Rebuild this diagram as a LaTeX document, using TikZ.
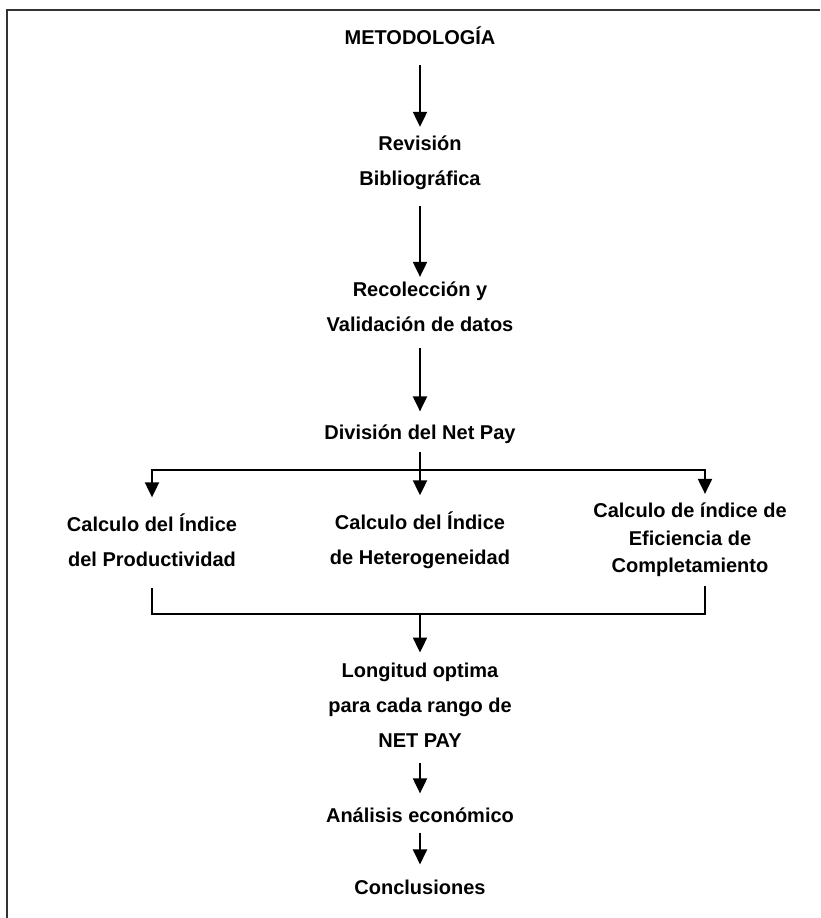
\documentclass[tikz,border=0pt]{standalone}
\usepackage{fontspec}
\setmainfont{Liberation Sans}
\usetikzlibrary{arrows.meta}

\begin{document}
\begin{tikzpicture}[x=1pt,y=-1pt,font=\fontsize{20}{35}\selectfont\bfseries,
  txt/.style={align=center,inner sep=0pt},
  ln/.style={line width=2pt},
  arr/.style={line width=2pt,-{Triangle[length=15pt,width=14pt]}}]

\useasboundingbox (0,0) rectangle (820,918);
\draw[line width=1.5pt,black!80] (7,918) -- (7,10) -- (820,10);

\coordinate (s) at (420,470);
\coordinate (m) at (420,614);

\node[txt] (met) at (420,36) {METODOLOGÍA};
\node[txt] (rev) at (420,163) {Revisión\\Bibliográfica};
\node[txt] (rec) at (420,307) {Recolección y\\Validación de datos};
\node[txt] (div) at (420,434) {División del Net Pay};

\node[txt] (prod) at (152,540) {Calculo del Índice\\del Productividad};
\node[txt] (het) at (420,540) {Calculo del Índice\\de Heterogeneidad};
\node[txt,font=\fontsize{20}{27.5}\selectfont\bfseries] (efi) at (690,540) {Calculo de índice de\\Eficiencia de\\Completamiento};

\node[txt] (lon) at (420,705) {Longitud optima\\para cada rango de\\NET PAY};
\node[txt] (ana) at (420,815) {Análisis económico};
\node[txt] (con) at (420,887) {Conclusiones};

\draw[arr,shorten <=20pt,shorten >=9pt] (met) -- (rev);
\draw[arr,shorten <=16pt,shorten >=5pt] (rev) -- (rec);
\draw[arr,shorten <=16pt,shorten >=13pt] (rec) -- (div);

\draw[ln,shorten <=8pt] (div) -- (s);
\draw[arr,shorten >=16pt] (s) -| (prod);
\draw[arr,shorten >=16pt] (s) -- (het);
\draw[arr,shorten >=9pt] (s) -| ([xshift=15pt]efi.north);

\draw[ln,shorten <=21pt,shorten >=9pt] (prod) |- (m) -| ([xshift=15pt]efi.south);
\draw[arr,shorten >=10pt] (m) -- (lon);
\draw[arr,shorten <=16pt,shorten >=14pt] (lon) -- (ana);
\draw[arr,shorten <=10pt,shorten >=15pt] (ana) -- (con);

\end{tikzpicture}
\end{document}
